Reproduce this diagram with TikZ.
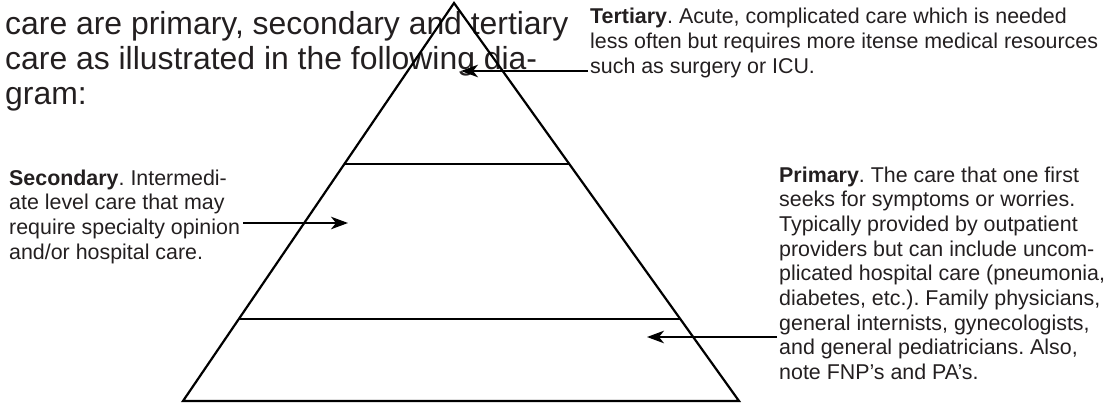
\documentclass[tikz,border=0pt]{standalone}
\usepackage{fontspec}
\setmainfont{Liberation Sans}
\usetikzlibrary{arrows.meta,calc}
\definecolor{txt}{HTML}{231F20}
\frenchspacing
\tikzset{
  desc/.style={anchor=base west, inner sep=0pt, text=txt, font=\fontsize{21.4}{24.7}\selectfont},
  big/.style={anchor=base west, inner sep=0pt, text=txt, font=\fontsize{31.9}{34.8}\selectfont},
  edge/.style={line width=2.2pt, black},
  pointer/.style={line width=2.2pt, black, -{Stealth[length=17pt, width=12.5pt, inset=5pt]}}
}
\begin{document}
\begin{tikzpicture}[x=1pt,y=-1pt]
\useasboundingbox (0,0) rectangle (1106,404);
% intro text
\node[big] (intro) at (5,35) {\vtop{\hbox{care are primary, secondary and tertiary}\hbox{care as illustrated in the following dia-}\hbox{gram:}}};
% pyramid
\coordinate (apex) at (454,3);
\coordinate (bl) at (183,401);
\coordinate (br) at (739,401);
\coordinate (l1a) at ($(apex)!161/398!(bl)$);
\coordinate (l1b) at ($(apex)!161/398!(br)$);
\coordinate (l2a) at ($(apex)!316/398!(bl)$);
\coordinate (l2b) at ($(apex)!316/398!(br)$);
\draw[edge, line join=miter] (bl) -- (apex) -- (br) -- cycle;
\draw[edge] (l1a) -- (l1b);
\draw[edge] (l2a) -- (l2b);
% descriptions
\node[desc] (ter) at (590,24) {\vtop{\hbox{\textbf{Tertiary}. Acute, complicated care which is needed}\hbox{less often but requires more itense medical resources}\hbox{such as surgery or ICU.}}};
\node[desc] (sec) at (9,185) {\vtop{\hbox{\textbf{Secondary}. Intermedi-}\hbox{ate level care that may}\hbox{require specialty opinion}\hbox{and/or hospital care.}}};
\node[desc] (pri) at (779,182) {\vtop{\hbox{\textbf{Primary}. The care that one first}\hbox{seeks for symptoms or worries.}\hbox{Typically provided by outpatient}\hbox{providers but can include uncom-}\hbox{plicated hospital care (pneumonia,}\hbox{diabetes, etc.). Family physicians,}\hbox{general internists, gynecologists,}\hbox{and general pediatricians. Also,}\hbox{note FNP's and PA's.}}};
% arrows
\coordinate (ts) at (588,71);
\coordinate (te) at (461,71);
\coordinate (ss) at (243,223);
\coordinate (se) at (348,223);
\coordinate (ps) at (777,337);
\coordinate (pe) at (647,337);
\draw[pointer] (ts) -- (te);
\draw[pointer] (ss) -- (se);
\draw[pointer] (ps) -- (pe);
\end{tikzpicture}
\end{document}
